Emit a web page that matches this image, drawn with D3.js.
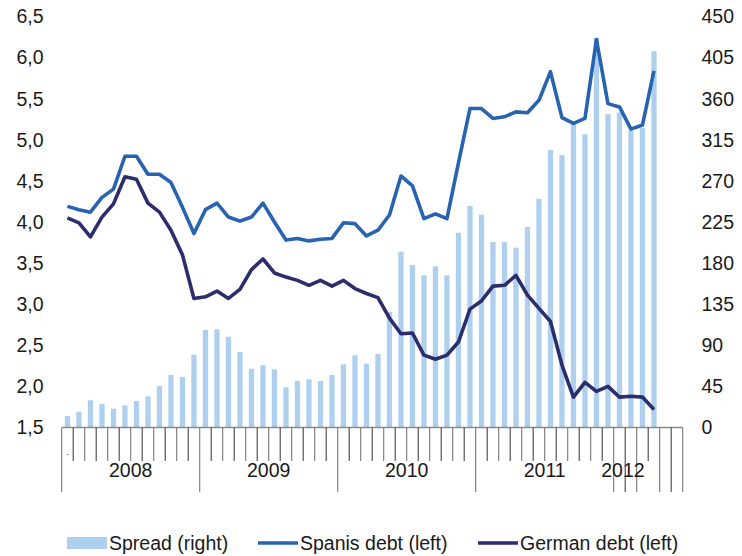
<!DOCTYPE html>
<html>
<head>
<meta charset="utf-8">
<script src="https://cdn.jsdelivr.net/npm/d3@7"></script>
<style>
  html, body { margin: 0; padding: 0; background: #fff; }
  svg { display: block; font-family: "Liberation Sans", Arial, sans-serif; }
</style>
</head>
<body>
<svg id="chart" width="742" height="556"></svg>
<script>
// Monthly observations, Jan 2008 – Jun 2012 (last two months not yet published)
const months = [
  "2008-01","2008-02","2008-03","2008-04","2008-05","2008-06","2008-07","2008-08","2008-09","2008-10","2008-11","2008-12",
  "2009-01","2009-02","2009-03","2009-04","2009-05","2009-06","2009-07","2009-08","2009-09","2009-10","2009-11","2009-12",
  "2010-01","2010-02","2010-03","2010-04","2010-05","2010-06","2010-07","2010-08","2010-09","2010-10","2010-11","2010-12",
  "2011-01","2011-02","2011-03","2011-04","2011-05","2011-06","2011-07","2011-08","2011-09","2011-10","2011-11","2011-12",
  "2012-01","2012-02","2012-03","2012-04","2012-05","2012-06"
];

// Spread between Spanish and German 10y yields, basis points (right axis)
const spread = [
  12.6, 17.3, 29.8, 26, 20.6, 24.3, 29, 34.1, 45.4, 57.5, 55.3, 79.7,
  106.8, 107.5, 99.4, 82.7, 64.4, 68.1, 63.7, 44, 50.9, 52.7, 50.9, 57.5,
  69.2, 79, 69.9, 80.5, 126.5, 192.5, 177.9, 166.6, 176.5, 166.6, 213.3, 242.5,
  233, 203, 203, 196.9, 219.5, 250.5, 303.8, 298.4, 332.3, 321, 426.8, 343,
  345, 325, 328, 412
];

// Spanish 10y yield, % (left axis)
const spanish = [
  4.19, 4.15, 4.12, 4.30, 4.40, 4.80, 4.80, 4.58, 4.58, 4.48, 4.18, 3.86,
  4.15, 4.23, 4.06, 4.01, 4.06, 4.23, 4.00, 3.78, 3.80, 3.77, 3.79, 3.80,
  3.99, 3.98, 3.83, 3.90, 4.085, 4.56, 4.44, 4.04, 4.10, 4.04, 4.72, 5.38,
  5.38, 5.26, 5.28, 5.34, 5.33, 5.48, 5.83, 5.27, 5.20, 5.26, 6.22, 5.44,
  5.40, 5.13, 5.18, 5.84
];

// German 10y yield, % (left axis)
const german = [
  4.05, 3.99, 3.82, 4.06, 4.22, 4.55, 4.52, 4.23, 4.12, 3.90, 3.60, 3.07,
  3.09, 3.16, 3.07, 3.18, 3.42, 3.55, 3.38, 3.33, 3.29, 3.23, 3.29, 3.22,
  3.29, 3.19, 3.13, 3.08, 2.83, 2.64, 2.65, 2.38, 2.33, 2.38, 2.54, 2.94,
  3.04, 3.22, 3.23, 3.35, 3.11, 2.95, 2.79, 2.26, 1.87, 2.05, 1.94, 2.00,
  1.87, 1.88, 1.87, 1.72
];

const leftTicks = [1.5, 2.0, 2.5, 3.0, 3.5, 4.0, 4.5, 5.0, 5.5, 6.0, 6.5];
const rightTicks = [0, 45, 90, 135, 180, 225, 270, 315, 360, 405, 450];

// Year labels with the month index they are centred on
const yearLabels = [
  { label: "2008", at: 6 },
  { label: "2009", at: 18 },
  { label: "2010", at: 30 },
  { label: "2011", at: 42 },
  { label: "2012", at: 48.8 }
];
// Category boundaries drawn as long separators
const longBoundaries = [0, 12, 24, 36, 48, 49, 50, 52, 53, 54];

const seriesNames = ["Spread (right)", "Spanis debt (left)", "German debt (left)"];

const colors = { bar: "#aed0ee", spanish: "#2763b1", german: "#2b2d6c", text: "#1a1a1a" };

const svg = d3.select("#chart");
const plot = { left: 61.7, right: 682.7, top: 16.5, bottom: 427.5 };

const x = d3.scaleBand()
  .domain(d3.range(months.length))
  .range([plot.left, plot.right])
  .paddingInner(0.54)
  .paddingOuter(0.27);
const step = x.step();
const cx = i => x(i) + x.bandwidth() / 2;
const boundary = k => plot.left + k * step;

const yL = d3.scaleLinear().domain([1.5, 6.5]).range([plot.bottom, plot.top]);
const yR = d3.scaleLinear().domain([0, 450]).range([plot.bottom, plot.top]);

// Bars: spread on the right axis
svg.append("g").selectAll("rect")
  .data(spread)
  .join("rect")
  .attr("x", (d, i) => x(i))
  .attr("width", x.bandwidth())
  .attr("y", d => yR(d))
  .attr("height", d => yR(0) - yR(d))
  .attr("fill", colors.bar);

// Lines: yields on the left axis
const line = d3.line().x((d, i) => cx(i)).y(d => yL(d)).curve(d3.curveLinear);
svg.append("path").datum(spanish)
  .attr("d", line).attr("fill", "none")
  .attr("stroke", colors.spanish).attr("stroke-width", 3.6)
  .attr("stroke-linejoin", "round");
svg.append("path").datum(german)
  .attr("d", line).attr("fill", "none")
  .attr("stroke", colors.german).attr("stroke-width", 3.6)
  .attr("stroke-linejoin", "round");

// Category axis
const axisG = svg.append("g");
axisG.append("line")
  .attr("x1", plot.left).attr("x2", plot.right)
  .attr("y1", plot.bottom).attr("y2", plot.bottom)
  .attr("stroke", "#8a8a8a").attr("stroke-width", 1.3);
axisG.selectAll("line.tick")
  .data(d3.range(months.length + 1))
  .join("line")
  .attr("class", "tick")
  .attr("x1", k => boundary(k)).attr("x2", k => boundary(k))
  .attr("y1", plot.bottom)
  .attr("y2", k => longBoundaries.includes(k) ? 492 : 461)
  .attr("stroke", (k) => k % 2 ? "#444" : "#777")
  .attr("stroke-width", 1.1);

axisG.selectAll("text.year")
  .data(yearLabels)
  .join("text")
  .attr("class", "year")
  .attr("x", d => boundary(d.at))
  .attr("y", 477)
  .attr("text-anchor", "middle")
  .attr("font-size", 19.5)
  .attr("fill", colors.text)
  .text(d => d.label);

axisG.append("text")
  .attr("x", cx(0)).attr("y", 455)
  .attr("text-anchor", "middle")
  .attr("font-size", 9).attr("fill", colors.text)
  .text(".");

// Value axes (labels only)
svg.append("g").selectAll("text")
  .data(leftTicks)
  .join("text")
  .attr("x", 43.5)
  .attr("y", d => yL(d))
  .attr("dy", "0.35em")
  .attr("text-anchor", "end")
  .attr("font-size", 19.5)
  .attr("fill", colors.text)
  .text(d => d3.format(".1f")(d).replace(".", ","));

svg.append("g").selectAll("text")
  .data(rightTicks)
  .join("text")
  .attr("x", 701.5)
  .attr("y", d => yR(d))
  .attr("dy", "0.35em")
  .attr("text-anchor", "start")
  .attr("font-size", 19.5)
  .attr("fill", colors.text)
  .text(d => d);

// Legend
const legend = svg.append("g");
const legendItems = [
  { name: seriesNames[0], kind: "bar", color: colors.bar, x: 67 },
  { name: seriesNames[1], kind: "line", color: colors.spanish, x: 258 },
  { name: seriesNames[2], kind: "line", color: colors.german, x: 478 }
];
legendItems.forEach(item => {
  if (item.kind === "bar") {
    legend.append("rect").attr("x", item.x).attr("y", 537).attr("width", 40).attr("height", 12)
      .attr("fill", item.color);
  } else {
    legend.append("line").attr("x1", item.x).attr("x2", item.x + 40)
      .attr("y1", 543).attr("y2", 543)
      .attr("stroke", item.color).attr("stroke-width", 3.6);
  }
  legend.append("text")
    .attr("x", item.x + 42).attr("y", 543).attr("dy", "0.35em")
    .attr("font-size", 19.5).attr("fill", colors.text)
    .text(item.name);
});
</script>
</body>
</html>
